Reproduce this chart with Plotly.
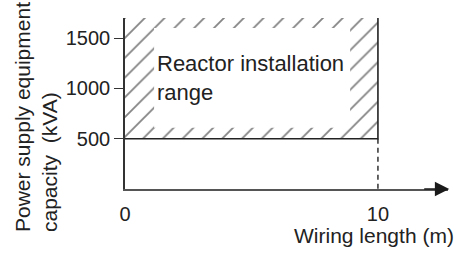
import plotly.graph_objects as go

# ---- data ----
x_ticks = [0, 10]
x_tick_labels = ["0", "10"]
y_ticks = [500, 1000, 1500]
y_tick_labels = ["500", "1000", "1500"]
range_x = [0, 10]          # wiring length range (m)
range_y = [500, 1700]      # capacity range (kVA)
inner_x = [1.15, 8.9]      # unhatched interior
inner_y = [610, 1600]
x_title = "Wiring length (m)"
y_title_lines = ["Power supply equipment", "capacity  (kVA)"]
region_text = "Reactor installation<br>range"

W, H = 467, 257
L, R, T, B = 125, 19, 18, 68
XMAX = 12.77
YMAX = 1700

fig = go.Figure()

# hatched frame (outer rectangle with inner hole)
hx = [range_x[0], range_x[0], range_x[1], range_x[1], range_x[0],
      inner_x[0], inner_x[1], inner_x[1], inner_x[0], inner_x[0], range_x[0]]
hy = [range_y[0], range_y[1], range_y[1], range_y[0], range_y[0],
      inner_y[0], inner_y[0], inner_y[1], inner_y[1], inner_y[0], range_y[0]]
fig.add_trace(go.Scatter(
    x=hx, y=hy, mode="lines", fill="toself",
    line=dict(width=0, color="rgba(0,0,0,0)"),
    fillcolor="rgba(0,0,0,0)",
    fillpattern=dict(shape="/", size=14, solidity=0.13, fgcolor="#0a0a0a", bgcolor="white"),
    hoverinfo="skip", showlegend=False))

# bottom boundary (500 kVA) and right boundary (10 m)
fig.add_trace(go.Scatter(
    x=[range_x[0], range_x[1], range_x[1]], y=[range_y[0], range_y[0], range_y[1]],
    mode="lines", line=dict(color="#222222", width=1.6),
    hoverinfo="skip", showlegend=False, cliponaxis=False))

# dashed drop line at 10 m
fig.add_trace(go.Scatter(
    x=[range_x[1], range_x[1]], y=[range_y[0], -80],
    mode="lines", line=dict(color="#222222", width=1.4, dash="5px,4px"),
    hoverinfo="skip", showlegend=False, cliponaxis=False))

# region label
fig.add_annotation(x=inner_x[0] + 0.03, y=1100, xref="x", yref="y", text=region_text,
                   showarrow=False, xanchor="left", yanchor="middle", align="left",
                   font=dict(size=22, color="#222222"))

# x-axis arrow head
fig.add_annotation(x=XMAX + 0.05, y=0, ax=XMAX - 1.0, ay=0, xref="x", yref="y",
                   axref="x", ayref="y", text="", showarrow=True, arrowhead=2,
                   arrowsize=1.8, arrowwidth=1.6, arrowcolor="#1a1a1a")

# axis titles
fig.add_annotation(x=1.0, y=-46 / 171, xref="paper", yref="paper", text=x_title,
                   showarrow=False, xanchor="right", yanchor="middle",
                   xshift=8, font=dict(size=21, color="#222222"))
for i, line in enumerate(y_title_lines):
    fig.add_annotation(x=0, y=0, xref="paper", yref="paper", text=line, textangle=-90,
                       showarrow=False, xanchor="center", yanchor="bottom",
                       xshift=-(L - 22 - 27 * i), yshift=-45,
                       font=dict(size=21, color="#222222"))

fig.update_layout(
    width=W, height=H, margin=dict(l=L, r=R, t=T, b=B),
    plot_bgcolor="white", paper_bgcolor="white",
    font=dict(family="Liberation Sans, Arial, sans-serif", size=20, color="#222222"),
    xaxis=dict(range=[0, XMAX], showgrid=False, zeroline=False, showline=True,
               linecolor="#555555", linewidth=1.6, tickmode="array", tickvals=x_ticks,
               ticktext=x_tick_labels, ticks="", ticklabelstandoff=6,
               tickfont=dict(size=20, color="#222222")),
    yaxis=dict(range=[0, YMAX], showgrid=False, zeroline=False, showline=True,
               linecolor="#333333", linewidth=1.6, tickmode="array", tickvals=y_ticks,
               ticktext=y_tick_labels, ticks="outside", ticklen=9, tickwidth=1.4,
               tickcolor="#333333", ticklabelstandoff=0,
               tickfont=dict(size=20, color="#222222")),
)

fig.write_html("out.html", config={"displayModeBar": False},
               post_script="document.body.style.margin='0';")
